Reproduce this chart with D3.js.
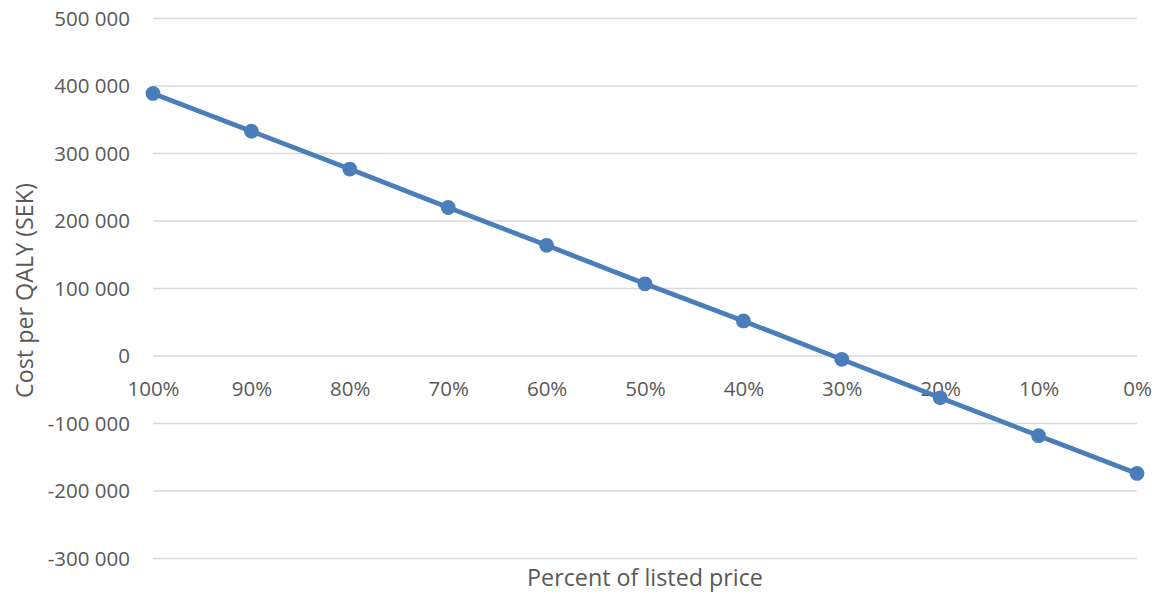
<!DOCTYPE html>
<html>
<head>
<meta charset="utf-8">
<script src="https://cdn.jsdelivr.net/npm/d3@7"></script>
<style>
  html, body { margin: 0; padding: 0; background: #fff; }
  svg { display: block; }
  text { font-family: "Open Sans", "Liberation Sans", sans-serif; fill: #595959; }
</style>
</head>
<body>
<svg id="chart" width="1159" height="594"></svg>
<script>
// Share of listed price (category axis, left to right)
const categories = ["100%", "90%", "80%", "70%", "60%", "50%", "40%", "30%", "20%", "10%", "0%"];
// Cost per QALY in SEK at each price level
const costPerQaly = [389000, 333000, 277000, 220000, 164000, 107000, 52000, -5000, -62000, -118000, -174000];
// Value axis ticks
const yTicks = [500000, 400000, 300000, 200000, 100000, 0, -100000, -200000, -300000];

const svg = d3.select("#chart");
const plot = { left: 153, right: 1137, top: 18.5, bottom: 558.5 };
const FONT = '"Open Sans", "Liberation Sans", sans-serif';
const tickSize = 20.5;

const x = d3.scalePoint().domain(categories).range([plot.left, plot.right]);
const y = d3.scaleLinear().domain([-300000, 500000]).range([plot.bottom, plot.top]);

// Space as thousands separator, plain hyphen for negatives
const fmt = v => (v < 0 ? "-" : "") + d3.format(",")(Math.abs(v)).replace(/,/g, " ");

// Horizontal gridlines
svg.append("g")
  .selectAll("line")
  .data(yTicks)
  .join("line")
  .attr("x1", plot.left).attr("x2", plot.right)
  .attr("y1", d => y(d)).attr("y2", d => y(d))
  .attr("stroke", "#d9d9d9").attr("stroke-width", 1.3);

// Value axis labels
const yAxis = d3.axisLeft(y).tickValues(yTicks).tickFormat(fmt).tickSize(0).tickPadding(0);
const gy = svg.append("g").attr("transform", `translate(${plot.left - 23},0)`).call(yAxis);
gy.select(".domain").remove();
gy.attr("font-size", tickSize).attr("font-family", FONT);
gy.selectAll("text").attr("fill", "#595959");

// Category labels sit just below the zero line
const xAxis = d3.axisBottom(x).tickSize(0).tickPadding(0);
const gx = svg.append("g").attr("transform", `translate(0,${396 - 0.71 * tickSize})`).call(xAxis);
gx.select(".domain").remove();
gx.attr("font-size", tickSize).attr("font-family", FONT);
gx.selectAll("text").attr("fill", "#595959");

// Series line
const data = categories.map((c, i) => ({ c, v: costPerQaly[i] }));
svg.append("path")
  .datum(data)
  .attr("fill", "none")
  .attr("stroke", "#4a7ebb")
  .attr("stroke-width", 4.8)
  .attr("stroke-linejoin", "round")
  .attr("d", d3.line().x(d => x(d.c)).y(d => y(d.v)));

// Markers
svg.append("g")
  .selectAll("circle")
  .data(data)
  .join("circle")
  .attr("cx", d => x(d.c))
  .attr("cy", d => y(d.v))
  .attr("r", 7.4)
  .attr("fill", "#4a7ebb");

// Axis titles
svg.append("text")
  .attr("x", 645).attr("y", 586)
  .attr("text-anchor", "middle")
  .attr("font-size", 23.3)
  .text("Percent of listed price");

svg.append("text")
  .attr("transform", `translate(33,290.5) rotate(-90)`)
  .attr("text-anchor", "middle")
  .attr("font-size", 23.3)
  .text("Cost per QALY (SEK)");
</script>
</body>
</html>
